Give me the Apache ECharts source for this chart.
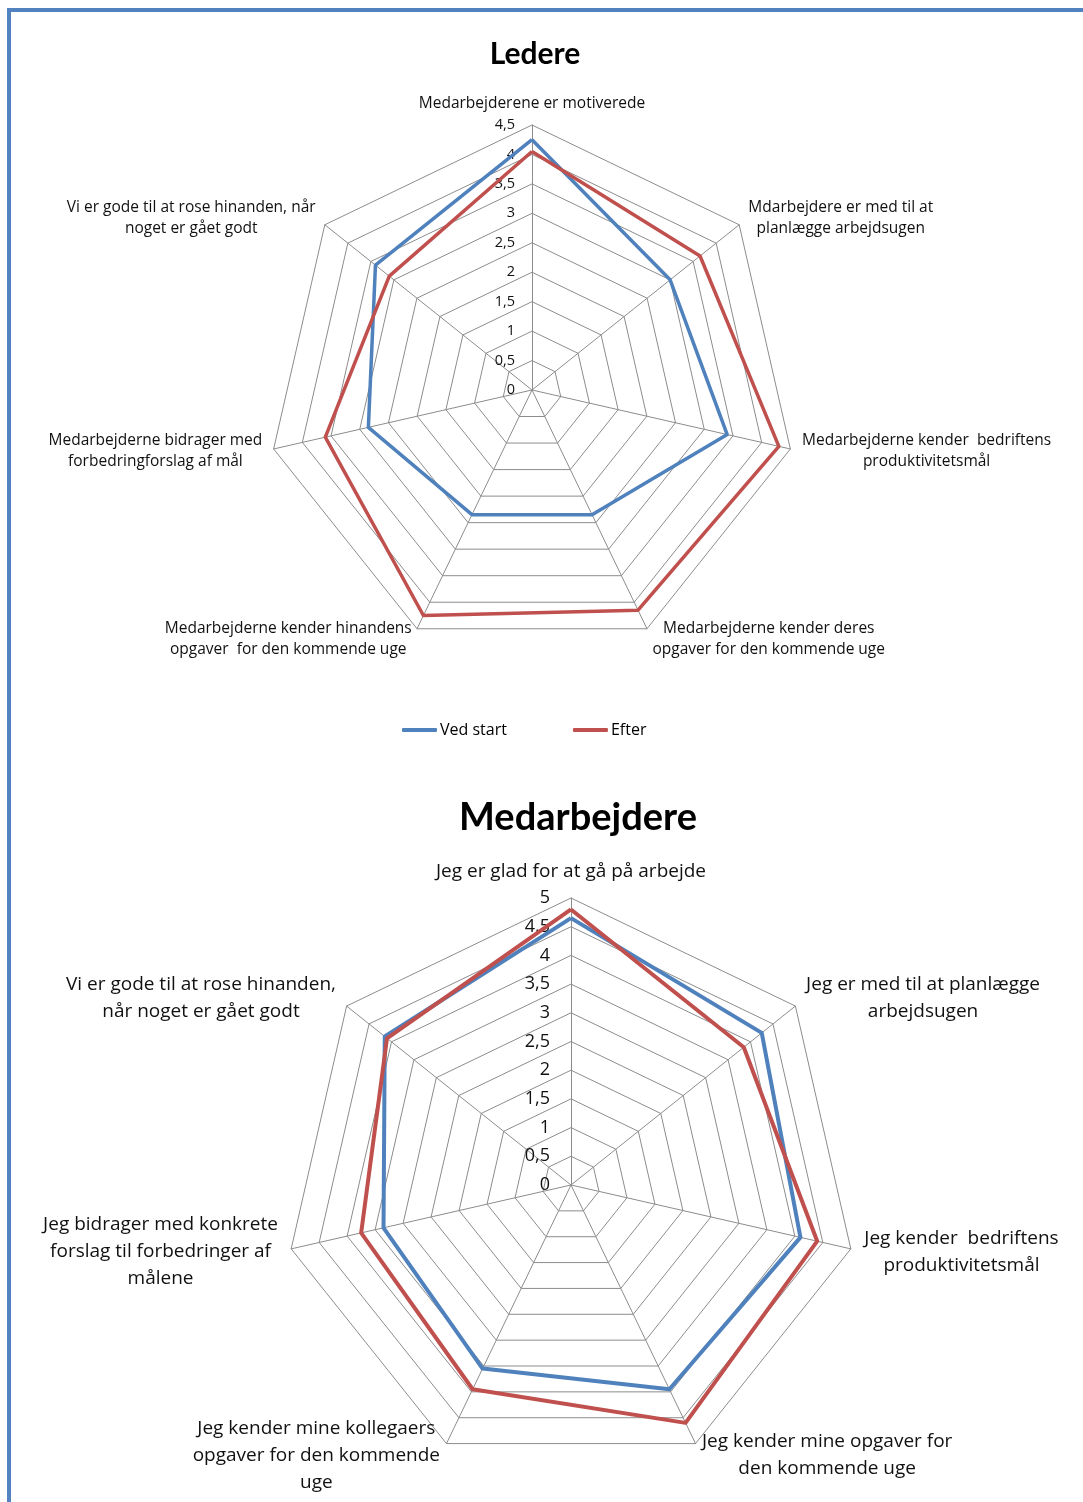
<!DOCTYPE html>
<html>
<head>
<meta charset="utf-8">
<script src="https://cdn.jsdelivr.net/npm/echarts@6/dist/echarts.min.js"></script>
<style>
html, body { margin: 0; padding: 0; background: #fff; overflow: hidden; }
#frame { position: absolute; left: 7px; top: 8px; width: 2000px; height: 2000px; border-left: 4px solid #5282c0; border-top: 4px solid #5282c0; }
#chart { position: absolute; left: 0; top: 0; width: 1083px; height: 1502px; }
</style>
</head>
<body>
<div id="frame"></div>
<div id="chart"></div>
<script>
// Ledere
var lederNames = [
	'Medarbejderene er motiverede',
	'Mdarbejdere er med til at\nplanlægge arbejdsugen',
	'Medarbejderne kender  bedriftens\nproduktivitetsmål',
	'Medarbejderne kender deres\nopgaver for den kommende uge',
	'Medarbejderne kender hinandens\nopgaver  for den kommende uge',
	'Medarbejderne bidrager med\nforbedringforslag af mål',
	'Vi er gode til at rose hinanden, når\nnoget er gået godt'
];
var lederStart = [4.25, 3.0, 3.4, 2.35, 2.35, 2.85, 3.4];
var lederEfter = [4.05, 3.65, 4.3, 4.15, 4.25, 3.6, 3.1];
var lederMax = 4.5;

// Medarbejdere
var medNames = [
	'Jeg er glad for at gå på arbejde',
	'Jeg er med til at planlægge\narbejdsugen',
	'Jeg kender  bedriftens\nproduktivitetsmål',
	'Jeg kender mine opgaver for\nden kommende uge',
	'Jeg kender mine kollegaers\nopgaver for den kommende\nuge',
	'Jeg bidrager med konkrete\nforslag til forbedringer af\nmålene',
	'Vi er gode til at rose hinanden,\nnår noget er gået godt'
];
var medStart = [4.65, 4.25, 4.1, 3.95, 3.55, 3.35, 4.15];
var medEfter = [4.8, 3.85, 4.4, 4.6, 3.95, 3.75, 4.1];
var medMax = 5;

var legendNames = ['Ved start', 'Efter'];
var colors = ['#4f81bd', '#c0504d'];
var font = 'Open Sans';

// echarts lays indicators out counter-clockwise, Excel goes clockwise
function cw(arr) {
	return [arr[0]].concat(arr.slice(1).reverse());
}

function indicators(names, max) {
	return cw(names).map(function(n, i) {
		var ind = { name: n, min: 0, max: max };
		if (i === 0) {
			ind.axisLabel = { show: true };
		}
		return ind;
	});
}

function comma(v) {
	return String(v).replace('.', ',');
}

// multi line names: lines centered inside the block, like excel does
var ctx = document.createElement('canvas').getContext('2d');
function centeredName(names, size) {
	var rich = {};
	var keys = {};
	names.forEach(function(n, i) {
		ctx.font = size + 'px "' + font + '"';
		var w = 0;
		n.split('\n').forEach(function(l) {
			w = Math.max(w, ctx.measureText(l).width);
		});
		rich['n' + i] = { width: Math.ceil(w) + 1, align: 'center' };
		keys[n] = 'n' + i;
	});
	return {
		rich: rich,
		formatter: function(name) {
			return name.split('\n').map(function(l) {
				return '{' + keys[name] + '|' + l + '}';
			}).join('\n');
		}
	};
}

var lederFmt = centeredName(lederNames, 15.5);
var medFmt = centeredName(medNames, 19);

var chart = echarts.init(document.getElementById('chart'));
var option = {
	animation: false,
	textStyle: { fontFamily: font },
	title: [{
		text: 'Ledere',
		left: 535,
		top: 39,
		padding: 0,
		textAlign: 'center',
		textStyle: { fontFamily: 'Lato', fontSize: 30, fontWeight: 'bold', color: '#000' }
	}, {
		text: 'Medarbejdere',
		left: 578,
		top: 799,
		padding: 0,
		textAlign: 'center',
		textStyle: { fontFamily: 'Lato', fontSize: 38, fontWeight: 'bold', color: '#000' }
	}],
	legend: {
		left: 402,
		top: 722,
		padding: 0,
		itemWidth: 35,
		itemHeight: 4,
		itemGap: 66,
		icon: 'roundRect',
		textStyle: { fontFamily: font, fontSize: 16, color: '#000', padding: [0, 0, 0, -2] },
		data: legendNames
	},
	radar: [{
		center: [532, 390],
		radius: 265,
		shape: 'polygon',
		splitNumber: 9,
		nameGap: 11,
		indicator: indicators(lederNames, lederMax),
		axisName: { color: '#111', fontFamily: font, fontSize: 15.5, lineHeight: 21, rich: lederFmt.rich, formatter: lederFmt.formatter },
		axisLine: { lineStyle: { color: '#8c8c8c', width: 1 } },
		splitLine: { lineStyle: { color: '#8c8c8c', width: 1 } },
		splitArea: { show: false },
		axisLabel: { show: false, color: '#111', fontFamily: font, fontSize: 14.5, margin: 17, formatter: comma }
	}, {
		center: [571, 1185],
		radius: 287,
		shape: 'polygon',
		splitNumber: 10,
		nameGap: 13,
		indicator: indicators(medNames, medMax),
		axisName: { color: '#111', fontFamily: font, fontSize: 19, lineHeight: 27, rich: medFmt.rich, formatter: medFmt.formatter },
		axisLine: { lineStyle: { color: '#8c8c8c', width: 1 } },
		splitLine: { lineStyle: { color: '#8c8c8c', width: 1 } },
		splitArea: { show: false },
		axisLabel: { show: false, color: '#111', fontFamily: font, fontSize: 18, margin: 21, formatter: comma }
	}],
	series: [{
		type: 'radar',
		radarIndex: 0,
		symbol: 'none',
		data: [
			{ name: legendNames[0], value: cw(lederStart), lineStyle: { color: colors[0], width: 3.5 }, itemStyle: { color: colors[0] } },
			{ name: legendNames[1], value: cw(lederEfter), lineStyle: { color: colors[1], width: 3.5 }, itemStyle: { color: colors[1] } }
		]
	}, {
		type: 'radar',
		radarIndex: 1,
		symbol: 'none',
		data: [
			{ name: legendNames[0], value: cw(medStart), lineStyle: { color: colors[0], width: 4 }, itemStyle: { color: colors[0] } },
			{ name: legendNames[1], value: cw(medEfter), lineStyle: { color: colors[1], width: 4 }, itemStyle: { color: colors[1] } }
		]
	}]
};
chart.setOption(option);
</script>
</body>
</html>
